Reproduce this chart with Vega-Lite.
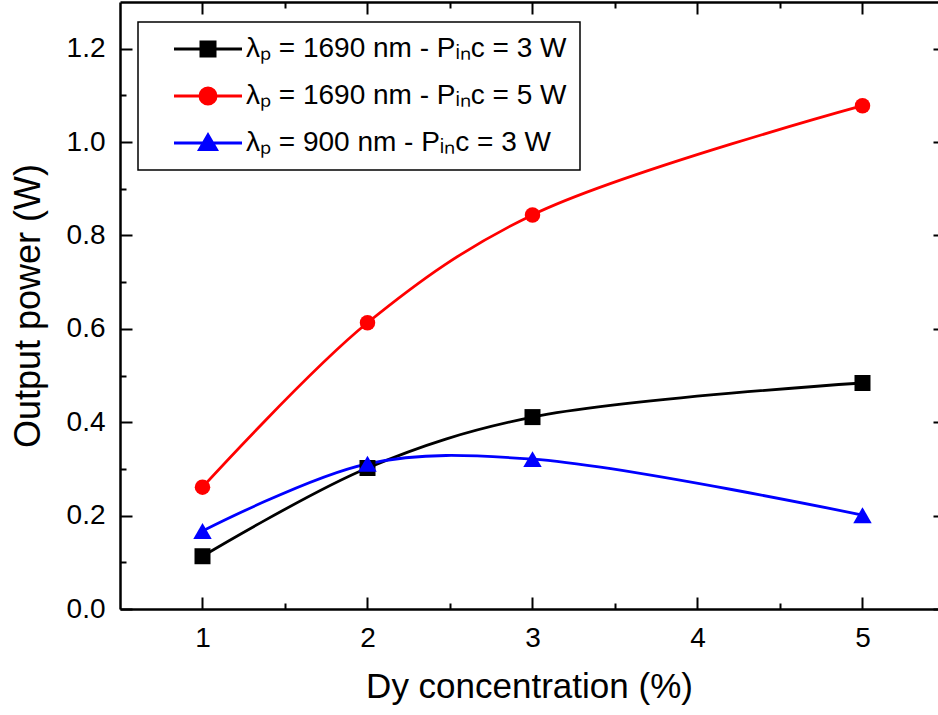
{
  "$schema": "https://vega.github.io/schema/vega-lite/v6.json",
  "autosize": {"type": "none"},
  "padding": {"left": 120, "top": 2, "right": 0, "bottom": 106},
  "width": 818,
  "height": 607,
  "background": "white",
  "config": {
    "view": {"stroke": null},
    "font": "Liberation Sans",
    "axis": {"grid": false, "domainColor": "black", "domainWidth": 2.5, "tickColor": "black", "tickWidth": 2, "labelColor": "black", "titleColor": "black", "labelFont": "Liberation Sans", "titleFont": "Liberation Sans", "titleFontWeight": "normal"},
    "legend": {"title": null, "orient": "none", "legendX": 18, "legendY": 20, "padding": 13,
      "strokeColor": "black", "fillColor": "white",
      "symbolSize": 256, "symbolStrokeWidth": 3, "labelFont": "Liberation Sans", "labelFontSize": 28, "labelColor": "black",
      "labelOffset": 67, "rowPadding": 19, "labelLimit": 0}
  },
  "data": {"values": [
    {"x": 1, "y": 0.113, "s": "λₚ = 1690 nm - Pᵢₙc = 3 W"},
    {"x": 2, "y": 0.302, "s": "λₚ = 1690 nm - Pᵢₙc = 3 W"},
    {"x": 3, "y": 0.411, "s": "λₚ = 1690 nm - Pᵢₙc = 3 W"},
    {"x": 5, "y": 0.484, "s": "λₚ = 1690 nm - Pᵢₙc = 3 W"},
    {"x": 1, "y": 0.261, "s": "λₚ = 1690 nm - Pᵢₙc = 5 W"},
    {"x": 2, "y": 0.613, "s": "λₚ = 1690 nm - Pᵢₙc = 5 W"},
    {"x": 3, "y": 0.844, "s": "λₚ = 1690 nm - Pᵢₙc = 5 W"},
    {"x": 5, "y": 1.078, "s": "λₚ = 1690 nm - Pᵢₙc = 5 W"},
    {"x": 1, "y": 0.167, "s": "λₚ = 900 nm - Pᵢₙc = 3 W"},
    {"x": 2, "y": 0.311, "s": "λₚ = 900 nm - Pᵢₙc = 3 W"},
    {"x": 3, "y": 0.321, "s": "λₚ = 900 nm - Pᵢₙc = 3 W"},
    {"x": 5, "y": 0.201, "s": "λₚ = 900 nm - Pᵢₙc = 3 W"}
  ]},
  "resolve": {"axis": {"x": "independent", "y": "independent"}},
  "layer": [
    {
      "mark": {"type": "line", "interpolate": "catmull-rom", "strokeWidth": 2.8},
      "encoding": {
        "x": {"field": "x", "type": "quantitative", "scale": {"domain": [0.5, 5.4576], "nice": false, "zero": false},
          "axis": {"orient": "bottom", "values": [1, 1.5, 2, 2.5, 3, 3.5, 4, 4.5, 5],
            "tickSize": {"condition": {"test": "datum.value % 1 === 0", "value": -12}, "value": -6},
            "labelExpr": "datum.value % 1 === 0 ? format(datum.value, 'd') : ''",
            "labelFontSize": 28, "labelPadding": 27, "title": "Dy concentration (%)", "titleFontSize": 35, "titlePadding": 17}},
        "y": {"field": "y", "type": "quantitative", "scale": {"domain": [0, 1.3], "nice": false},
          "axis": {"orient": "left", "values": [0, 0.1, 0.2, 0.3, 0.4, 0.5, 0.6, 0.7, 0.8, 0.9, 1.0, 1.1, 1.2],
            "tickSize": {"condition": {"test": "round(datum.value*10) % 2 === 0", "value": -12}, "value": -6},
            "labelExpr": "round(datum.value*10) % 2 === 0 ? format(datum.value, '.1f') : ''",
            "labelFontSize": 28, "labelPadding": 27, "title": "Output power (W)", "titleFontSize": 36, "titlePadding": 19}},
        "color": {"field": "s", "type": "nominal",
          "scale": {"domain": ["λₚ = 1690 nm - Pᵢₙc = 3 W", "λₚ = 1690 nm - Pᵢₙc = 5 W", "λₚ = 900 nm - Pᵢₙc = 3 W"], "range": ["#000000", "#ff0000", "#0000ff"]},
          "legend": {
            "encode": {
              "legend": {"update": {"strokeWidth": {"value": 1.5}}},
              "symbols": {"update": {
              "shape": {"signal": "indexof(datum.value, '5 W') >= 0 ? 'M1.125,0H9.625M6.375,0A1,1,0,1,1,4.375,0A1,1,0,1,1,6.375,0Z' : (indexof(datum.value, '900') >= 0 ? 'M1.125,0H9.625M5.375,-1L6.425,0.8L4.325,0.8Z' : 'M1.125,0H9.625M4.5,-0.875H6.25V0.875H4.5Z')"},
              "fill": {"signal": "scale('color', datum.value)"},
              "stroke": {"signal": "scale('color', datum.value)"},
              "opacity": {"value": 1},
              "strokeWidth": {"value": 3}}}}}}
      }
    },
    {
      "transform": [{"filter": "datum.s === 'λₚ = 1690 nm - Pᵢₙc = 3 W'"}],
      "mark": {"type": "point", "filled": true, "opacity": 1, "shape": "square", "size": 256},
      "encoding": {
        "x": {"field": "x", "type": "quantitative", "scale": {"domain": [0.5, 5.4576], "nice": false, "zero": false},
          "axis": {"orient": "top", "values": [1, 1.5, 2, 2.5, 3, 3.5, 4, 4.5, 5],
            "tickSize": {"condition": {"test": "datum.value % 1 === 0", "value": -12}, "value": -6},
            "labels": false, "title": null}},
        "y": {"field": "y", "type": "quantitative", "scale": {"domain": [0, 1.3], "nice": false},
          "axis": {"orient": "right", "offset": 7, "values": [0, 0.1, 0.2, 0.3, 0.4, 0.5, 0.6, 0.7, 0.8, 0.9, 1.0, 1.1, 1.2],
            "tickSize": {"condition": {"test": "round(datum.value*10) % 2 === 0", "value": -12}, "value": -6},
            "labels": false, "title": null}},
        "color": {"field": "s", "type": "nominal",
          "scale": {"domain": ["λₚ = 1690 nm - Pᵢₙc = 3 W", "λₚ = 1690 nm - Pᵢₙc = 5 W", "λₚ = 900 nm - Pᵢₙc = 3 W"], "range": ["#000000", "#ff0000", "#0000ff"]},
          "legend": {
            "encode": {
              "legend": {"update": {"strokeWidth": {"value": 1.5}}},
              "symbols": {"update": {
              "shape": {"signal": "indexof(datum.value, '5 W') >= 0 ? 'M1.125,0H9.625M6.375,0A1,1,0,1,1,4.375,0A1,1,0,1,1,6.375,0Z' : (indexof(datum.value, '900') >= 0 ? 'M1.125,0H9.625M5.375,-1L6.425,0.8L4.325,0.8Z' : 'M1.125,0H9.625M4.5,-0.875H6.25V0.875H4.5Z')"},
              "fill": {"signal": "scale('color', datum.value)"},
              "stroke": {"signal": "scale('color', datum.value)"},
              "opacity": {"value": 1},
              "strokeWidth": {"value": 3}}}}}}
      }
    },
    {
      "transform": [{"filter": "datum.s === 'λₚ = 1690 nm - Pᵢₙc = 5 W'"}],
      "mark": {"type": "point", "filled": true, "opacity": 1, "shape": "circle", "size": 240},
      "encoding": {
        "x": {"field": "x", "type": "quantitative", "scale": {"domain": [0.5, 5.4576], "nice": false, "zero": false}, "axis": null},
        "y": {"field": "y", "type": "quantitative", "scale": {"domain": [0, 1.3], "nice": false}, "axis": null},
        "color": {"field": "s", "type": "nominal",
          "scale": {"domain": ["λₚ = 1690 nm - Pᵢₙc = 3 W", "λₚ = 1690 nm - Pᵢₙc = 5 W", "λₚ = 900 nm - Pᵢₙc = 3 W"], "range": ["#000000", "#ff0000", "#0000ff"]},
          "legend": {
            "encode": {
              "legend": {"update": {"strokeWidth": {"value": 1.5}}},
              "symbols": {"update": {
              "shape": {"signal": "indexof(datum.value, '5 W') >= 0 ? 'M1.125,0H9.625M6.375,0A1,1,0,1,1,4.375,0A1,1,0,1,1,6.375,0Z' : (indexof(datum.value, '900') >= 0 ? 'M1.125,0H9.625M5.375,-1L6.425,0.8L4.325,0.8Z' : 'M1.125,0H9.625M4.5,-0.875H6.25V0.875H4.5Z')"},
              "fill": {"signal": "scale('color', datum.value)"},
              "stroke": {"signal": "scale('color', datum.value)"},
              "opacity": {"value": 1},
              "strokeWidth": {"value": 3}}}}}}
      }
    },
    {
      "transform": [{"filter": "datum.s === 'λₚ = 900 nm - Pᵢₙc = 3 W'"}],
      "mark": {"type": "point", "filled": true, "opacity": 1, "shape": "triangle-up", "size": 340},
      "encoding": {
        "x": {"field": "x", "type": "quantitative", "scale": {"domain": [0.5, 5.4576], "nice": false, "zero": false}, "axis": null},
        "y": {"field": "y", "type": "quantitative", "scale": {"domain": [0, 1.3], "nice": false}, "axis": null},
        "color": {"field": "s", "type": "nominal",
          "scale": {"domain": ["λₚ = 1690 nm - Pᵢₙc = 3 W", "λₚ = 1690 nm - Pᵢₙc = 5 W", "λₚ = 900 nm - Pᵢₙc = 3 W"], "range": ["#000000", "#ff0000", "#0000ff"]},
          "legend": {
            "encode": {
              "legend": {"update": {"strokeWidth": {"value": 1.5}}},
              "symbols": {"update": {
              "shape": {"signal": "indexof(datum.value, '5 W') >= 0 ? 'M1.125,0H9.625M6.375,0A1,1,0,1,1,4.375,0A1,1,0,1,1,6.375,0Z' : (indexof(datum.value, '900') >= 0 ? 'M1.125,0H9.625M5.375,-1L6.425,0.8L4.325,0.8Z' : 'M1.125,0H9.625M4.5,-0.875H6.25V0.875H4.5Z')"},
              "fill": {"signal": "scale('color', datum.value)"},
              "stroke": {"signal": "scale('color', datum.value)"},
              "opacity": {"value": 1},
              "strokeWidth": {"value": 3}}}}}}
      }
    }
  ]
}
